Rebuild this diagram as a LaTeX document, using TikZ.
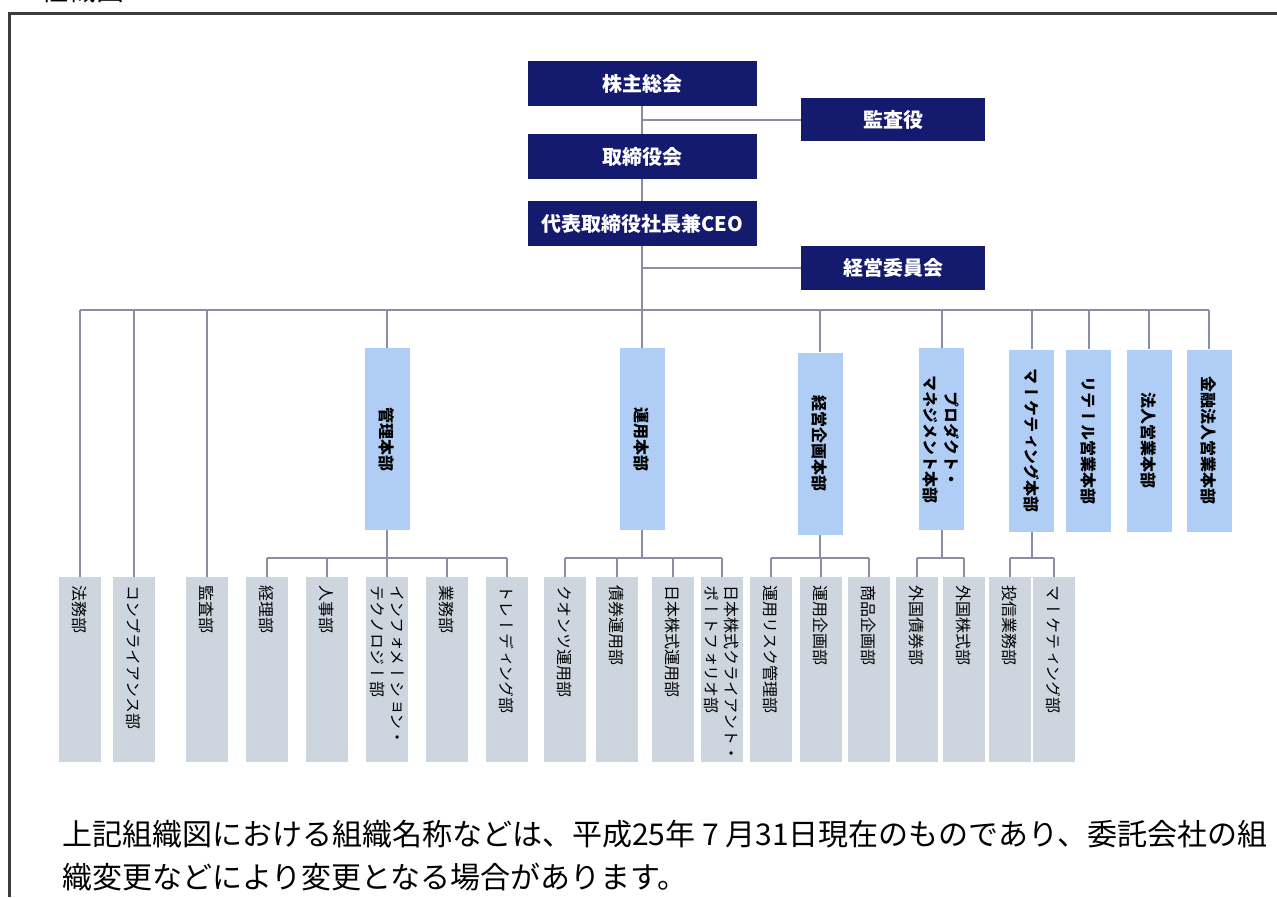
\documentclass[tikz,border=0pt]{standalone}
\usepackage{fontspec}
\setmainfont{Noto Sans CJK JP}
\newfontfamily\tate[Vertical=RotatedGlyphs]{Noto Sans CJK JP}

\definecolor{navy}{RGB}{20,26,110}
\definecolor{hqblue}{RGB}{175,205,245}
\definecolor{deptgray}{RGB}{205,214,222}
\definecolor{linkgray}{RGB}{140,140,162}
\definecolor{framegray}{RGB}{60,60,60}

\tikzset{
  topbox/.style={fill=navy, text=white, inner sep=0pt,
    font=\fontsize{20}{22}\selectfont\bfseries},
  hqbox/.style={fill=hqblue, rotate=-90, minimum width=182pt, minimum height=45pt,
    inner sep=0pt, align=center, font=\tate\bfseries\fontsize{16}{21}\selectfont},
  deptbox/.style={fill=deptgray, rotate=-90, minimum height=42pt, text width=169pt,
    inner xsep=8pt, inner ysep=0pt, align=left, font=\tate\fontsize{16}{20}\selectfont},
  link/.style={draw=linkgray, line width=2pt},
}

\begin{document}
\begin{tikzpicture}[x=1pt,y=-1pt]
\useasboundingbox (0,0) rectangle (1277,897);
% frame and heading
\draw[framegray, line width=3pt] (9.5,897) -- (9.5,13.5) -- (1277,13.5);
\node[anchor=base west, inner sep=0pt, font=\fontsize{28}{30}\selectfont] (title) at (40,0) {組織図};

% top management
\node[topbox, minimum width=229pt, minimum height=45pt] (agm) at (642,83.5) {株主総会};
\node[topbox, minimum width=184pt, minimum height=43pt] (auditor) at (893,119.5) {監査役};
\node[topbox, minimum width=229pt, minimum height=45pt] (board) at (642,156.5) {取締役会};
\node[topbox, minimum width=229pt, minimum height=45pt] (ceo) at (642,223.5) {代表取締役社長兼CEO};
\node[topbox, minimum width=184pt, minimum height=44pt] (excom) at (893,268) {経営委員会};

\coordinate (bus) at (642,310);
\coordinate (subbus) at (0,558);
\draw[link] (agm.south) -- (board.north) (board.south) -- (ceo.north) (ceo.south) -- (ceo.south |- bus);
\draw[link] (auditor.west -| agm.south) -- (auditor.west);
\draw[link] (excom.west -| ceo.south) -- (excom.west);

% divisions (rotated: west = top, east = bottom)
\foreach \n/\x/\y/\t in {kanri/387/439/管理本部, unyo/642/439/運用本部,
    keiei/820/443.5/経営企画本部, prod/941.5/439/{プロダクト・\\マネジメント本部},
    mkthq/1031.5/440.5/マーケティング本部, retail/1088.5/440.5/リテール営業本部,
    hojin/1149/440.5/法人営業本部, kinyu/1209/440.5/金融法人営業本部}
  \node[hqbox] (\n) at (\x,\y) {\t};

% departments
\foreach \n/\x/\t in {houmu/80/法務部, compl/134/コンプライアンス部, kansa/206.5/監査部,
    keiri/266.5/経理部, jinji/327/人事部, it/387/{インフォメーション・\\テクノロジー部},
    gyomu/447/業務部, trading/506.5/トレーディング部, quant/565/クオンツ運用部,
    bond/617/債券運用部, jpeq/672.5/日本株式運用部, jpcl/722/{日本株式クライアント・\\ポートフォリオ部},
    risk/770.5/運用リスク管理部, plan/820.5/運用企画部, prodplan/869/商品企画部,
    fbond/916.5/外国債券部, feq/964/外国株式部, toshin/1009.5/投信業務部, mkt/1053.5/マーケティング部}
  \node[deptbox] (\n) at (\x,669.5) {\t};

% main bus and drops
\draw[link] (houmu.west |- bus) -- (kinyu.west |- bus);
\foreach \n in {houmu,compl,kansa,kanri,unyo,keiei,prod,mkthq,retail,hojin,kinyu}
  \draw[link] (\n.west |- bus) -- (\n.west);

% division groups
\foreach \hq/\first/\last/\kids in {kanri/keiri/trading/{keiri,jinji,it,gyomu,trading},
    unyo/quant/jpcl/{quant,bond,jpeq,jpcl}, keiei/risk/prodplan/{risk,plan,prodplan},
    prod/fbond/feq/{fbond,feq}, mkthq/toshin/mkt/{toshin,mkt}}{
  \draw[link] (\hq.east) -- (\hq.east |- subbus);
  \draw[link] (\first.west |- subbus) -- (\last.west |- subbus);
  \foreach \k in \kids
    \draw[link] (\k.west |- subbus) -- (\k.west);
}

% note
\node[anchor=north west, align=left, inner sep=0pt, font=\fontsize{30}{43}\selectfont] (note) at (62,820)
  {上記組織図における組織名称などは、平成25年 7 月31日現在のものであり、委託会社の組\\織変更などにより変更となる場合があります。};
\end{tikzpicture}
\end{document}
